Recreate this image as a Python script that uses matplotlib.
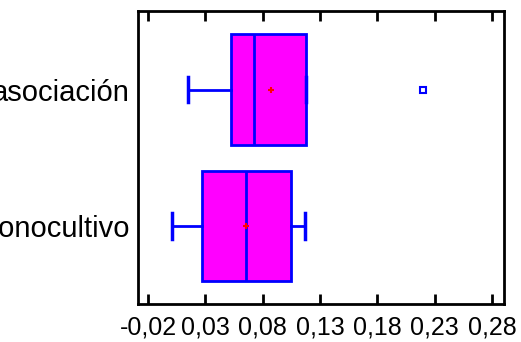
import numpy as np
import matplotlib
matplotlib.use("Agg")
import matplotlib.pyplot as plt

# data
groups = ["monocultivo", "asociación"]
whislo = [0.0007, 0.0149]
q1 = [0.0271, 0.0524]
med = [0.0655, 0.0725]
q3 = [0.1048, 0.1179]
whishi = [0.117, 0.1179]
means = [0.0655, 0.0873]
outliers = [[], [0.22]]

xticks = [-0.02, 0.03, 0.08, 0.13, 0.18, 0.23, 0.28]
xticklabels = ["-0,02", "0,03", "0,08", "0,13", "0,18", "0,23", "0,28"]

plt.rcParams['font.family'] = ['Liberation Sans', 'DejaVu Sans']

fig = plt.figure(figsize=(5.21, 3.42), dpi=100)
ax = fig.add_axes([138/521, 1 - 304/342, (504-138)/521, (304-11)/342])

stats = []
for i in range(len(groups)):
  stats.append(dict(whislo=whislo[i], q1=q1[i], med=med[i], q3=q3[i],
                    whishi=whishi[i], mean=means[i], fliers=outliers[i], label=groups[i]))

blue = '#0000ff'
ax.bxp(stats, positions=[1, 2], vert=False, widths=0.81, showmeans=True,
       patch_artist=True, capwidths=0.19,
       boxprops=dict(facecolor='#ff00ff', edgecolor=blue, linewidth=2),
       medianprops=dict(color=blue, linewidth=2),
       whiskerprops=dict(color=blue, linewidth=2),
       capprops=dict(color=blue, linewidth=2.5),
       meanprops=dict(marker='+', markeredgecolor='red', markersize=5, markeredgewidth=1.5),
       flierprops=dict(marker='s', markerfacecolor='white', markeredgecolor=blue, markersize=4, markeredgewidth=1.5))

ax.set_xlim(-0.0287, 0.2905)
ax.set_ylim(0.429, 2.575)
ax.set_xticks(xticks)
ax.set_xticklabels(xticklabels, fontsize=18)
ax.set_yticks([1, 2])
# the reference cuts the start of both labels at the left edge
ax.set_yticklabels(groups, fontsize=21)
ax.tick_params(axis='y', length=0, pad=6)
ax.tick_params(axis='x', direction='in', length=7, width=2, top=True, pad=8)

for sp in ax.spines.values():
  sp.set_linewidth(2)

fig.savefig("out.png", dpi=100)
